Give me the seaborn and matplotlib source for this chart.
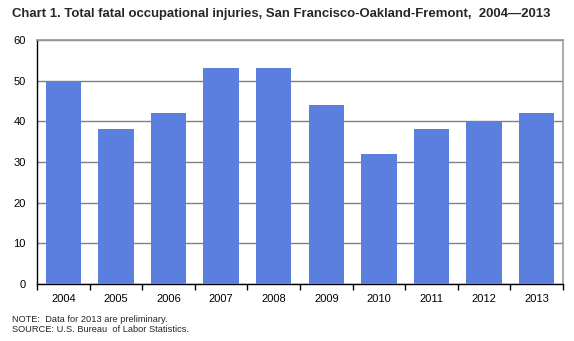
import matplotlib
matplotlib.use("Agg")
import matplotlib.pyplot as plt
import seaborn as sns
import pandas as pd
import numpy as np

years = ["2004", "2005", "2006", "2007", "2008", "2009", "2010", "2011", "2012", "2013"]
injuries = [50, 38, 42, 53, 53, 44, 32, 38, 40, 42]
yticks = [0, 10, 20, 30, 40, 50, 60]

sns.set_theme(style="white")
plt.rcParams['font.family'] = ['Liberation Sans', 'DejaVu Sans']

df = pd.DataFrame({"year": years, "value": injuries})

fig = plt.figure(figsize=(5.74, 3.41), dpi=100)
W, H = 574, 341
ax = fig.add_axes([37 / W, 1 - 284 / H, (563 - 37) / W, (284 - 40) / H])

sns.barplot(data=df, x="year", y="value", color="#5B7FDE", saturation=1,
            width=0.67, ax=ax, zorder=3, edgecolor="none")

ax.set_ylim(0, 60)
ax.set_xlim(-0.5, len(years) - 0.5)
ax.set_yticks(yticks)
ax.set_yticklabels([str(t) for t in yticks], fontsize=8, color="black")
ax.tick_params(axis="y", length=0, pad=8)
ax.yaxis.grid(True, color="#808080", linewidth=1, zorder=0)
ax.set_xlabel("")
ax.set_ylabel("")
ax.tick_params(axis="x", length=0, labelsize=8, pad=7, labelcolor="black")
ax.set_xticks(np.arange(len(years) + 1) - 0.5, minor=True)
ax.tick_params(axis="x", which="minor", length=4, width=1, color="black", direction="out", bottom=True)

for s in ["left", "bottom"]:
    ax.spines[s].set_color("black")
    ax.spines[s].set_linewidth(1)
ax.spines["top"].set_color("#8FA08F")
ax.spines["right"].set_color("#A0A0A0")
for s in ax.spines.values():
    s.set_visible(True)

fig.text(12 / W, 1 - 14 / H, "Chart 1. Total fatal occupational injuries, San Francisco-Oakland-Fremont,  2004\u20142013",
         fontsize=9.45, fontweight="bold", va="center", ha="left")
fig.text(12 / W, 1 - 320 / H, "NOTE:  Data for 2013 are preliminary.", fontsize=6.7, va="center", ha="left")
fig.text(12 / W, 1 - 329.5 / H, "SOURCE: U.S. Bureau  of Labor Statistics.", fontsize=6.7, va="center", ha="left")

fig.savefig("out.png", dpi=100)
